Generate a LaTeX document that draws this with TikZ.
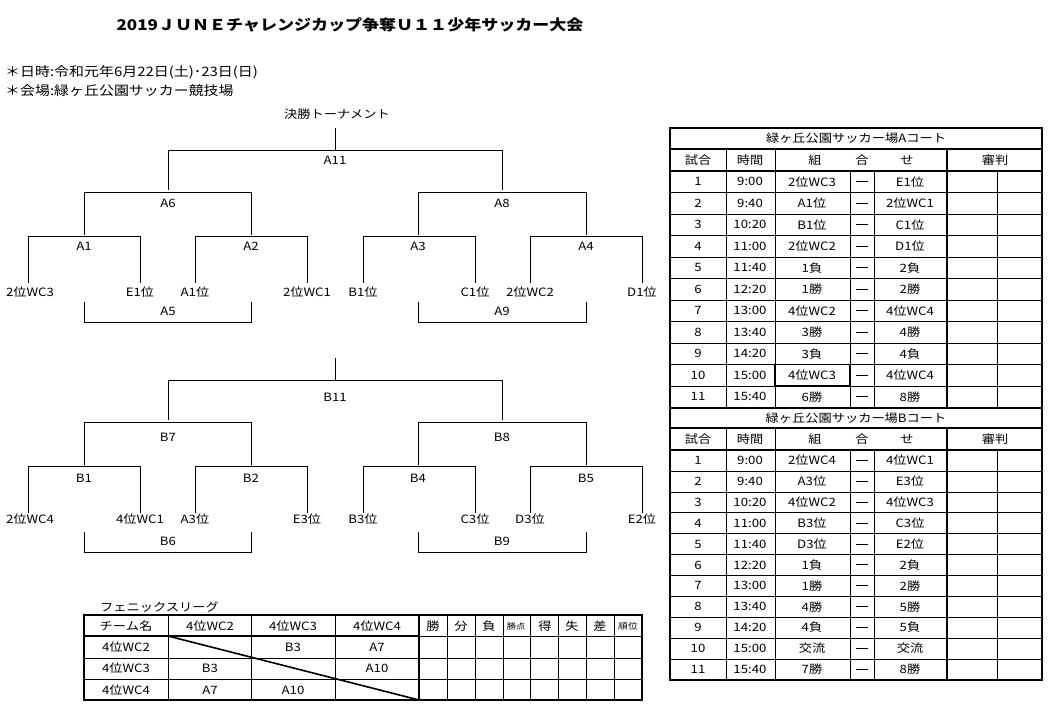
\documentclass[tikz,border=0pt]{standalone}
\usepackage{fontspec}
\setmainfont{Noto Sans CJK JP}[FakeStretch=1.15]
\usetikzlibrary{positioning}
\tikzset{
  lbl/.style={inner sep=0pt, font=\fontsize{11.5}{13}\selectfont},
  thk/.style={line width=1.6pt},
  ln/.style={line width=0.6pt}
}
\begin{document}
\begin{tikzpicture}[x=1pt, y=-1pt]
  \useasboundingbox (0,0) rectangle (1049,714);
  % heading
  \node[lbl, font=\fontsize{14.8}{17}\selectfont\bfseries] (title) at (350,25) {2019ＪＵＮＥチャレンジカップ争奪Ｕ１１少年サッカー大会};
  \node[lbl, anchor=west, font=\fontsize{13}{15}\selectfont] (date) at (5,72) {＊日時:令和元年6月22日(土)･23日(日)};
  \node[lbl, anchor=west, font=\fontsize{13}{15}\selectfont] (place) at (5,91) {＊会場:緑ヶ丘公園サッカー競技場};
  \node[lbl] (final) at (337,114) {決勝トーナメント};

  % brackets
  \foreach \off in {0,230}{
    \begin{scope}[yshift=-\off pt]
      \draw[ln] (335,128) -- (335,150);
      \draw[ln] (168,190) -- (168,150) -- (502,150) -- (502,190);
      \draw[ln] (84,235) -- (84,192) -- (251,192) -- (251,235);
      \draw[ln] (418,235) -- (418,192) -- (586,192) -- (586,235);
      \foreach \a/\b in {28/140,195/307,363/475,530/642}
        \draw[ln] (\a,283) -- (\a,236) -- (\b,236) -- (\b,283);
      \draw[ln] (84,302) -- (84,322) -- (251,322) -- (251,302);
      \draw[ln] (418,302) -- (418,322) -- (586,322) -- (586,302);
    \end{scope}
  }
  \foreach \x/\y/\t in {335/160/A11,168/203/A6,502/203/A8,84/246/A1,251/246/A2,418/246/A3,586/246/A4,
      30/292/2位WC3,140/292/E1位,195/292/A1位,307/292/2位WC1,363/292/B1位,475/292/C1位,530/292/2位WC2,642/292/D1位,
      168/311/A5,502/311/A9,
      335/397/B11,168/437/B7,502/437/B8,84/478/B1,251/478/B2,418/478/B4,586/478/B5,
      30/519/2位WC4,140/519/4位WC1,195/519/A3位,307/519/E3位,363/519/B3位,475/519/C3位,530/519/D3位,642/519/E2位,
      168/541/B6,502/541/B9}
    \node[lbl, fill=white, inner sep=1pt] at (\x,\y) {\t};

  % court A
  \node[lbl] (courtA) at (856,138) {緑ヶ丘公園サッカー場Aコート};
  \foreach \y in {192.5,214,235.5,257,278.5,300,321.5,343,364.5,386}
    \draw[ln] (670,\y) -- (1042,\y);
  \foreach \x in {726,775,850,874,997}
    \draw[ln] (\x,171) -- (\x,408);
  \draw[ln] (726,149) -- (726,171);
  \draw[ln] (775,149) -- (775,171);
  \draw[thk] (947,149) -- (947,408);
  \draw[thk] (670,149) -- (1042,149);
  \draw[thk] (670,171) -- (1042,171);
  \draw[thk] (775,364.5) rectangle (850,386);
  \foreach \x/\t in {698/試合,750/時間,815/組,862/合,907/せ,995/審判}
    \node[lbl] at (\x,160) {\t};
  \foreach \n/\tm/\a/\b [count=\i] in {1/9:00/2位WC3/E1位,2/9:40/A1位/2位WC1,3/10:20/B1位/C1位,
      4/11:00/2位WC2/D1位,5/11:40/1負/2負,6/12:20/1勝/2勝,7/13:00/4位WC2/4位WC4,8/13:40/3勝/4勝,
      9/14:20/3負/4負,10/15:00/4位WC3/4位WC4,11/15:40/6勝/8勝}{
    \pgfmathsetmacro\yy{171+(\i-0.5)*21.5}
    \node[lbl] at (698,\yy) {\n};
    \node[lbl] at (750,\yy) {\tm};
    \node[lbl] at (812,\yy) {\a};
    \draw[line width=1pt] (856,\yy) -- (868,\yy);
    \node[lbl] at (910,\yy) {\b};
  }

  % court B
  \node[lbl] (courtB) at (856,418) {緑ヶ丘公園サッカー場Bコート};
  \foreach \y in {470.9,491.8,512.7,533.6,554.5,575.4,596.3,617.2,638.1,659}
    \draw[ln] (670,\y) -- (1042,\y);
  \foreach \x in {726,775,850,874,997}
    \draw[ln] (\x,450) -- (\x,680);
  \draw[ln] (726,428) -- (726,450);
  \draw[ln] (775,428) -- (775,450);
  \draw[thk] (947,428) -- (947,680);
  \draw[thk] (670,408) -- (1042,408);
  \draw[thk] (670,428) -- (1042,428);
  \draw[thk] (670,450) -- (1042,450);
  \foreach \x/\t in {698/試合,750/時間,815/組,862/合,907/せ,995/審判}
    \node[lbl] at (\x,439) {\t};
  \foreach \n/\tm/\a/\b [count=\i] in {1/9:00/2位WC4/4位WC1,2/9:40/A3位/E3位,3/10:20/4位WC2/4位WC3,
      4/11:00/B3位/C3位,5/11:40/D3位/E2位,6/12:20/1負/2負,7/13:00/1勝/2勝,8/13:40/4勝/5勝,
      9/14:20/4負/5負,10/15:00/交流/交流,11/15:40/7勝/8勝}{
    \pgfmathsetmacro\yy{450+(\i-0.5)*20.9}
    \node[lbl] at (698,\yy) {\n};
    \node[lbl] at (750,\yy) {\tm};
    \node[lbl] at (812,\yy) {\a};
    \draw[line width=1pt] (856,\yy) -- (868,\yy);
    \node[lbl] at (910,\yy) {\b};
  }
  \draw[thk] (670,128) rectangle (1042,680);

  % league
  \node[lbl, anchor=west] (league) at (100,607) {フェニックスリーグ};
  \foreach \y in {636,658,679}
    \draw[ln] (84,\y) -- (642,\y);
  \foreach \x in {168,251,335,447,475,503,530,558,586,614}
    \draw[ln] (\x,615) -- (\x,700);
  \draw[thk] (419,615) -- (419,700);
  \draw[thk] (84,636) -- (419,636);
  \draw[thk] (168,636) -- (419,700);
  \draw[thk] (84,615) rectangle (642,700);
  \foreach \x/\t in {126/チーム名,210/4位WC2,293/4位WC3,377/4位WC4,433/勝,461/分,489/負,545/得,572/失,600/差}
    \node[lbl] at (\x,626) {\t};
  \node[lbl, font=\fontsize{8}{9}\selectfont] at (516,626) {勝点};
  \node[lbl, font=\fontsize{8.5}{9}\selectfont] at (628,626) {順位};
  \foreach \x/\y/\t in {126/647/4位WC2,126/668/4位WC3,126/690/4位WC4,293/647/B3,377/647/A7,
      210/668/B3,377/668/A10,210/690/A7,293/690/A10}
    \node[lbl] at (\x,\y) {\t};
\end{tikzpicture}
\end{document}
